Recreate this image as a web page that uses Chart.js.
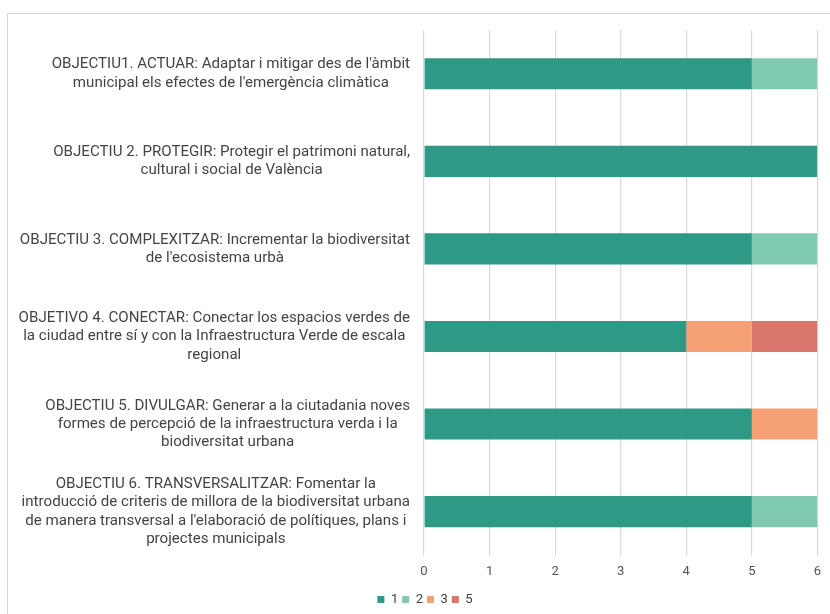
<!DOCTYPE html>
<html>
<head>
<meta charset="utf-8">
<script src="https://cdn.jsdelivr.net/npm/chart.js@4/dist/chart.umd.min.js"></script>
<style>
  html, body { margin: 0; padding: 0; background: #fff; overflow: hidden; }
  #frame { position: absolute; left: 7px; top: 13px; width: 900px; height: 700px; border: 1px solid #d4d4d4; }
  #wrap { position: absolute; left: 0; top: 0; width: 830px; height: 618px; }
</style>
</head>
<body>
<div id="frame"></div>
<div id="wrap"><canvas id="c"></canvas></div>
<script>
const categories = [
  ["OBJECTIU1. ACTUAR: Adaptar i mitigar des de l'àmbit", "municipal els efectes de l'emergència climàtica"],
  ["OBJECTIU 2. PROTEGIR: Protegir el patrimoni natural,", "cultural i social de València"],
  ["OBJECTIU 3. COMPLEXITZAR: Incrementar la biodiversitat", "de l'ecosistema urbà"],
  ["OBJETIVO 4. CONECTAR: Conectar los espacios verdes de", "la ciudad entre sí y con la Infraestructura Verde de escala", "regional"],
  ["OBJECTIU 5. DIVULGAR: Generar a la ciutadania noves", "formes de percepció de la infraestructura verda i la", "biodiversitat urbana"],
  ["OBJECTIU 6. TRANSVERSALITZAR: Fomentar la", "introducció de criteris de millora de la biodiversitat urbana", "de manera transversal a l'elaboració de polítiques, plans i", "projectes municipals"]
];
const seriesNames = ["1", "2", "3", "5"];
const values1 = [5, 6, 5, 4, 5, 5];
const values2 = [1, 0, 1, 0, 0, 1];
const values3 = [0, 0, 0, 1, 1, 0];
const values5 = [0, 0, 0, 1, 0, 0];
const xTicks = [0, 1, 2, 3, 4, 5, 6];

const colors = ["#2e9985", "#80cbb0", "#f5a075", "#d9776a"];
const allValues = [values1, values2, values3, values5];

const datasets = seriesNames.map((n, i) => ({
  label: n,
  data: allValues[i],
  backgroundColor: colors[i],
  borderWidth: 0,
  barPercentage: 0.355,
  categoryPercentage: 1.0
}));

const shiftLegend = {
  id: 'shiftLegend',
  afterLayout(chart) {
    if (chart.legend) { chart.legend.left += 10; chart.legend.right += 10; }
  }
};

const LABEL_GAP = 14;
function patchLabels(s) {
  if (s._blockPatched) return;
  s._blockPatched = true;
  const orig = s._computeLabelItems.bind(s);
  s._computeLabelItems = function (ca) {
    const items = orig(ca);
    const ctx = s.ctx;
    items.forEach(it => {
      if (!it || !it.options || !it.options.translation) return;
      ctx.save();
      ctx.font = it.font.string;
      const lines = [].concat(it.label);
      const w = Math.max.apply(null, lines.map(l => ctx.measureText(l).width));
      ctx.restore();
      it.options.textAlign = 'center';
      it.options.translation[0] = s.right - LABEL_GAP - w / 2;
    });
    return items;
  };
}

new Chart(document.getElementById('c'), {
  type: 'bar',
  data: { labels: categories, datasets },
  plugins: [shiftLegend],
  options: {
    indexAxis: 'y',
    responsive: true,
    maintainAspectRatio: false,
    animation: false,
    layout: { padding: { left: 10, right: 10, top: 30, bottom: 2 } },
    scales: {
      x: {
        stacked: true,
        min: 0, max: 6,
        afterBuildTicks: (s) => { s.ticks = xTicks.map(v => ({ value: v })); },
        grid: { color: '#d9d9d9', lineWidth: 1.2, drawTicks: true, tickLength: 0 },
        border: { display: false },
        ticks: { color: '#555', font: { family: 'Roboto', size: 13 }, padding: 9 }
      },
      y: {
        stacked: true,
        grid: { display: false },
        border: { display: false },
        afterFit: (s) => { s.width = 414; s.paddingTop = 0; s.paddingBottom = 0; patchLabels(s); },
        ticks: {
          crossAlign: 'center',
          padding: 13,
          color: '#444',
          font: { family: 'Roboto', size: 15.1, lineHeight: 1.21 }
        }
      }
    },
    plugins: {
      legend: {
        position: 'bottom',
        labels: {
          boxWidth: 7, boxHeight: 7, padding: 4,
          color: '#444',
          font: { family: 'Roboto', size: 13 },
          generateLabels: (chart) => chart.data.datasets.map((d, i) => ({
            text: d.label, fillStyle: d.backgroundColor, strokeStyle: d.backgroundColor, lineWidth: 0, datasetIndex: i, hidden: false, fontColor: '#444'
          }))
        }
      },
      tooltip: { enabled: false }
    }
  }
});
</script>
</body>
</html>
